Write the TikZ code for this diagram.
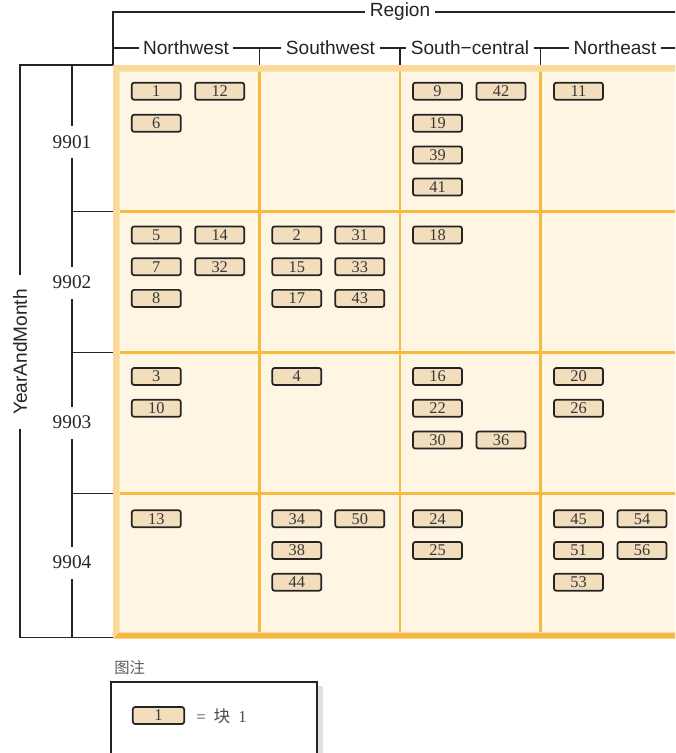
\documentclass[tikz,border=0pt]{standalone}
\usepackage{fontspec}
\setmainfont{Liberation Serif}
\setsansfont{Liberation Sans}
\newfontfamily\cjkfont{Noto Sans CJK SC}
\usepackage{xcolor}
\usepackage{tikz}

\definecolor{cellfill}{RGB}{254,245,227}
\definecolor{barlight}{RGB}{250,218,155}
\definecolor{gridorange}{RGB}{246,186,66}
\definecolor{blockfill}{RGB}{242,222,188}
\definecolor{inkdark}{RGB}{36,36,36}

\begin{document}
\begin{tikzpicture}[x=0.75pt,y=0.75pt,yscale=-1,xscale=1,
  blk/.style={draw=inkdark,line width=1.3pt,fill=blockfill,rounded corners=1.8pt,
    minimum width=36.8pt,minimum height=12.8pt,inner sep=0pt,text=black!78,
    font=\fontsize{12.3}{12.3}\selectfont},
  hdr/.style={fill=white,inner xsep=3.4pt,inner ysep=1pt,text=inkdark,
    font=\sffamily\fontsize{14.3}{14.3}\selectfont},
  rowlbl/.style={fill=white,inner xsep=1pt,minimum height=24pt,text=black!85,
    font=\fontsize{14.5}{14.5}\selectfont},
  hline/.style={draw=inkdark,line width=1.3pt},
  gline/.style={draw=gridorange,line width=1.8pt}]
\clip (0,0) rectangle (675,753);
%Shape: Rectangle
\fill[cellfill] (113,65) rectangle (690,638);
%Straight Lines
\draw[gline] (259.5,71) -- (259.5,632);
\draw[gline] (400,71) -- (400,632);
\draw[gline] (540.5,71) -- (540.5,632);
\draw[gline] (120,211.5) -- (690,211.5);
\draw[gline] (120,352.5) -- (690,352.5);
\draw[gline] (120,493.5) -- (690,493.5);
%Shape: Polygon
\fill[barlight] (113,65) -- (690,65) -- (690,71.5) -- (119.5,71.5) -- cycle;
\fill[barlight] (113,65) -- (119.5,71.5) -- (119.5,632.5) -- (113,638.5) -- cycle;
\fill[gridorange] (113,638.5) -- (119.5,632.5) -- (690,632.5) -- (690,638.5) -- cycle;

%Straight Lines
\draw[hline] (113,65) -- (20,65) -- (20,637.5) -- (113,637.5);
\draw[hline] (72,65) -- (72,637.5);
\draw[hline] (72,211.5) -- (113,211.5);
\draw[hline] (72,352.5) -- (113,352.5);
\draw[hline] (72,493.5) -- (113,493.5);
\draw[hline] (113,65) -- (113,12) -- (690,12);
\draw[hline] (113,48) -- (690,48);
\draw[hline] (259.5,48) -- (259.5,65);
\draw[hline] (400,48) -- (400,65);
\draw[hline] (540.5,48) -- (540.5,65);

% Text Node
\draw (400,12) node [hdr] (region) {Region};
% Text Node
\draw (186,48) node [hdr] (nw) {Northwest};
% Text Node
\draw (330.5,48) node [hdr] (sw) {Southwest};
% Text Node
\draw (470,48) node [hdr] (sc) {South−central};
% Text Node
\draw (615,48) node [hdr] (ne) {Northeast};
% Text Node
\draw (20,352) node [hdr,rotate=90,inner xsep=11pt] (ym) {YearAndMonth};
% Text Node
\draw (72,142) node [rowlbl] (y9901) {9901};
% Text Node
\draw (72,282.5) node [rowlbl] (y9902) {9902};
% Text Node
\draw (72,422.5) node [rowlbl] (y9903) {9903};
% Text Node
\draw (72,562.5) node [rowlbl] (y9904) {9904};

%Blocks 9901
\draw (156.3,91.2) node [blk] (b1) {1};
\draw (219.7,91.2) node [blk] (b12) {12};
\draw (156.3,123.3) node [blk] (b6) {6};
\draw (437.5,91.2) node [blk] (b9) {9};
\draw (501,91.2) node [blk] (b42) {42};
\draw (437.5,123.3) node [blk] (b19) {19};
\draw (437.5,155) node [blk] (b39) {39};
\draw (437.5,187) node [blk] (b41) {41};
\draw (578.5,91.2) node [blk] (b11) {11};
%Blocks 9902
\draw (156.3,235) node [blk] (b5) {5};
\draw (219.7,235) node [blk] (b14) {14};
\draw (156.3,266.7) node [blk] (b7) {7};
\draw (219.7,266.7) node [blk] (b32) {32};
\draw (156.3,298.4) node [blk] (b8) {8};
\draw (296.8,235) node [blk] (b2) {2};
\draw (359.8,235) node [blk] (b31) {31};
\draw (296.8,266.7) node [blk] (b15) {15};
\draw (359.8,266.7) node [blk] (b33) {33};
\draw (296.8,298.4) node [blk] (b17) {17};
\draw (359.8,298.4) node [blk] (b43) {43};
\draw (437.5,235) node [blk] (b18) {18};
%Blocks 9903
\draw (156.3,376.5) node [blk] (b3) {3};
\draw (156.3,408.3) node [blk] (b10) {10};
\draw (296.8,376.5) node [blk] (b4) {4};
\draw (437.5,376.5) node [blk] (b16) {16};
\draw (437.5,408.3) node [blk] (b22) {22};
\draw (437.5,440) node [blk] (b30) {30};
\draw (501,440) node [blk] (b36) {36};
\draw (578.5,376.5) node [blk] (b20) {20};
\draw (578.5,408.3) node [blk] (b26) {26};
%Blocks 9904
\draw (156.3,518.8) node [blk] (b13) {13};
\draw (296.8,518.8) node [blk] (b34) {34};
\draw (359.8,518.8) node [blk] (b50) {50};
\draw (296.8,550.5) node [blk] (b38) {38};
\draw (296.8,582.2) node [blk] (b44) {44};
\draw (437.5,518.8) node [blk] (b24) {24};
\draw (437.5,550.5) node [blk] (b25) {25};
\draw (578.5,518.8) node [blk] (b45) {45};
\draw (642,518.8) node [blk] (b54) {54};
\draw (578.5,550.5) node [blk] (b51) {51};
\draw (642,550.5) node [blk] (b56) {56};
\draw (578.5,582.2) node [blk] (b53) {53};

% Text Node
\draw (114,668) node [anchor=west,inner sep=0pt,text=black!65,font=\cjkfont\fontsize{11.5}{11.5}\selectfont] (legtitle) {图注};
%Shape: Rectangle
\fill[black!12] (317,686) rectangle (323,760);
\draw[hline,fill=white] (111,760) -- (111,682) -- (317,682) -- (317,760);
\draw (158.5,715.5) node [blk,minimum width=38.5pt] (legblk) {1};
% Text Node
\draw (196,716) node [anchor=west,inner sep=0pt,text=black!70,font=\fontsize{12.5}{12.5}\selectfont] (legtxt) {=\hspace{6pt}{\cjkfont 块}\hspace{6pt}1};
\end{tikzpicture}
\end{document}
